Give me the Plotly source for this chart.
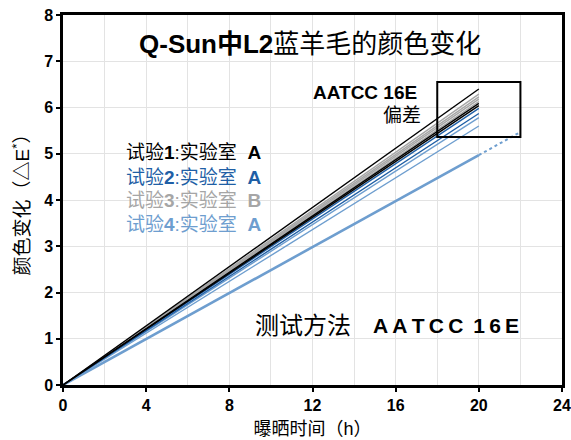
import plotly.graph_objects as go

# ---- data ----
hours = [0, 20]
test1_end = [6.40, 6.09, 6.04]          # 试验1 实验室A (black)
test3_end = [6.29, 6.23, 6.18, 6.13]    # 试验3 实验室B (gray)
test2_end = [5.98, 5.87]                # 试验2 实验室A (dark blue)
test4_end = [5.78, 5.60]                # 试验4 实验室A (light blue)
ref_end = 4.97                          # thick reference line
ext_hours = [20, 22]
ext_values = [4.97, 5.47]
tolerance_box = [18, 22, 5.36, 6.55]    # x0, x1, y0, y1

legend_rows = [
    ("试验<b>1</b>:实验室  <b>A</b>", "#000000"),
    ("试验<b>2</b>:实验室  <b>A</b>", "#1f5fa6"),
    ("试验<b>3</b>:实验室  <b>B</b>", "#a6a6a6"),
    ("试验<b>4</b>:实验室  <b>A</b>", "#6e9ecf"),
]
legend_y = [5.03, 4.49, 3.99, 3.47]

FONT = "Liberation Sans, Arial, Noto Sans CJK SC"
BLACK = "#000000"
DBLUE = "#1f5fa6"
GRAY = "#a6a6a6"
LBLUE = "#6e9ecf"
TS = "\u2009"  # thin space for letter spacing

fig = go.Figure()

def add_lines(ends, color, width=1.4):
    for v in ends:
        fig.add_trace(go.Scatter(x=hours, y=[0, v], mode="lines",
                                 line=dict(color=color, width=width),
                                 showlegend=False, hoverinfo="skip"))

add_lines(test4_end, LBLUE)
fig.add_trace(go.Scatter(x=hours, y=[0, ref_end], mode="lines",
                         line=dict(color=LBLUE, width=2.6),
                         showlegend=False, hoverinfo="skip"))
fig.add_trace(go.Scatter(x=ext_hours, y=ext_values, mode="lines",
                         line=dict(color=LBLUE, width=2, dash="dot"),
                         showlegend=False, hoverinfo="skip"))
add_lines(test2_end, DBLUE)
add_lines(test3_end, GRAY)
add_lines(test1_end, BLACK)

fig.add_shape(type="rect", x0=tolerance_box[0], x1=tolerance_box[1],
              y0=tolerance_box[2], y1=tolerance_box[3],
              line=dict(color=BLACK, width=2))

ann = []
ann.append(dict(x=11.9, y=7.37, text="<b>Q-Sun中L2</b>蓝羊毛的颜色变化",
                showarrow=False, font=dict(size=26, color=BLACK, family=FONT)))
ann.append(dict(x=17.1, y=6.33, text="<b>AATCC 16E</b>", xanchor="right",
                showarrow=False, font=dict(size=19, color=BLACK, family=FONT)))
ann.append(dict(x=17.3, y=5.83, text="偏差", xanchor="right",
                showarrow=False, font=dict(size=19, color=BLACK, family=FONT)))
for (t, c), yy in zip(legend_rows, legend_y):
    ann.append(dict(x=2.93, y=yy, text=t, xanchor="left",
                    showarrow=False, font=dict(size=19, color=c, family=FONT)))
ann.append(dict(x=9.13, y=1.28, text="测试方法", xanchor="left",
                showarrow=False, font=dict(size=24, color=BLACK, family=FONT)))
ann.append(dict(x=14.8, y=1.28, text="<b>" + TS.join("AATCC") + TS + " " + TS.join("16E") + "</b>",
                xanchor="left",
                showarrow=False, font=dict(size=21, color=BLACK, family=FONT)))
for a in ann:
    a.setdefault("xref", "x")
    a.setdefault("yref", "y")

fig.update_layout(
    width=571, height=440,
    margin=dict(l=63, r=9, t=15, b=55, autoexpand=False),
    plot_bgcolor="white", paper_bgcolor="white",
    annotations=ann,
    font=dict(family=FONT, color=BLACK),
    xaxis=dict(range=[0, 24], dtick=4, tick0=0, showgrid=True, gridcolor="#e3e3e3",
               gridwidth=1, minor=dict(dtick=2, showgrid=True, gridcolor="#e3e3e3"),
               showline=True, linecolor=BLACK, linewidth=2.5, mirror=True,
               ticks="outside", ticklen=4, tickcolor=BLACK, tickwidth=2,
               tickfont=dict(size=16, family=FONT, weight="bold"),
               zeroline=False, automargin=False,
               title=dict(text="曝晒时间（h）", font=dict(size=18, family=FONT), standoff=10)),
    yaxis=dict(range=[0, 8], dtick=1, tick0=0, showgrid=True, gridcolor="#e3e3e3",
               showline=True, linecolor=BLACK, linewidth=2.5, mirror=True,
               ticks="outside", ticklen=4, tickcolor=BLACK, tickwidth=2,
               tickfont=dict(size=16, family=FONT, weight="bold"),
               zeroline=False, automargin=False,
               title=dict(text="颜色变化（△E<sup>*</sup>）", font=dict(size=19, family=FONT), standoff=10)),
)

fig.write_html("out.html")
